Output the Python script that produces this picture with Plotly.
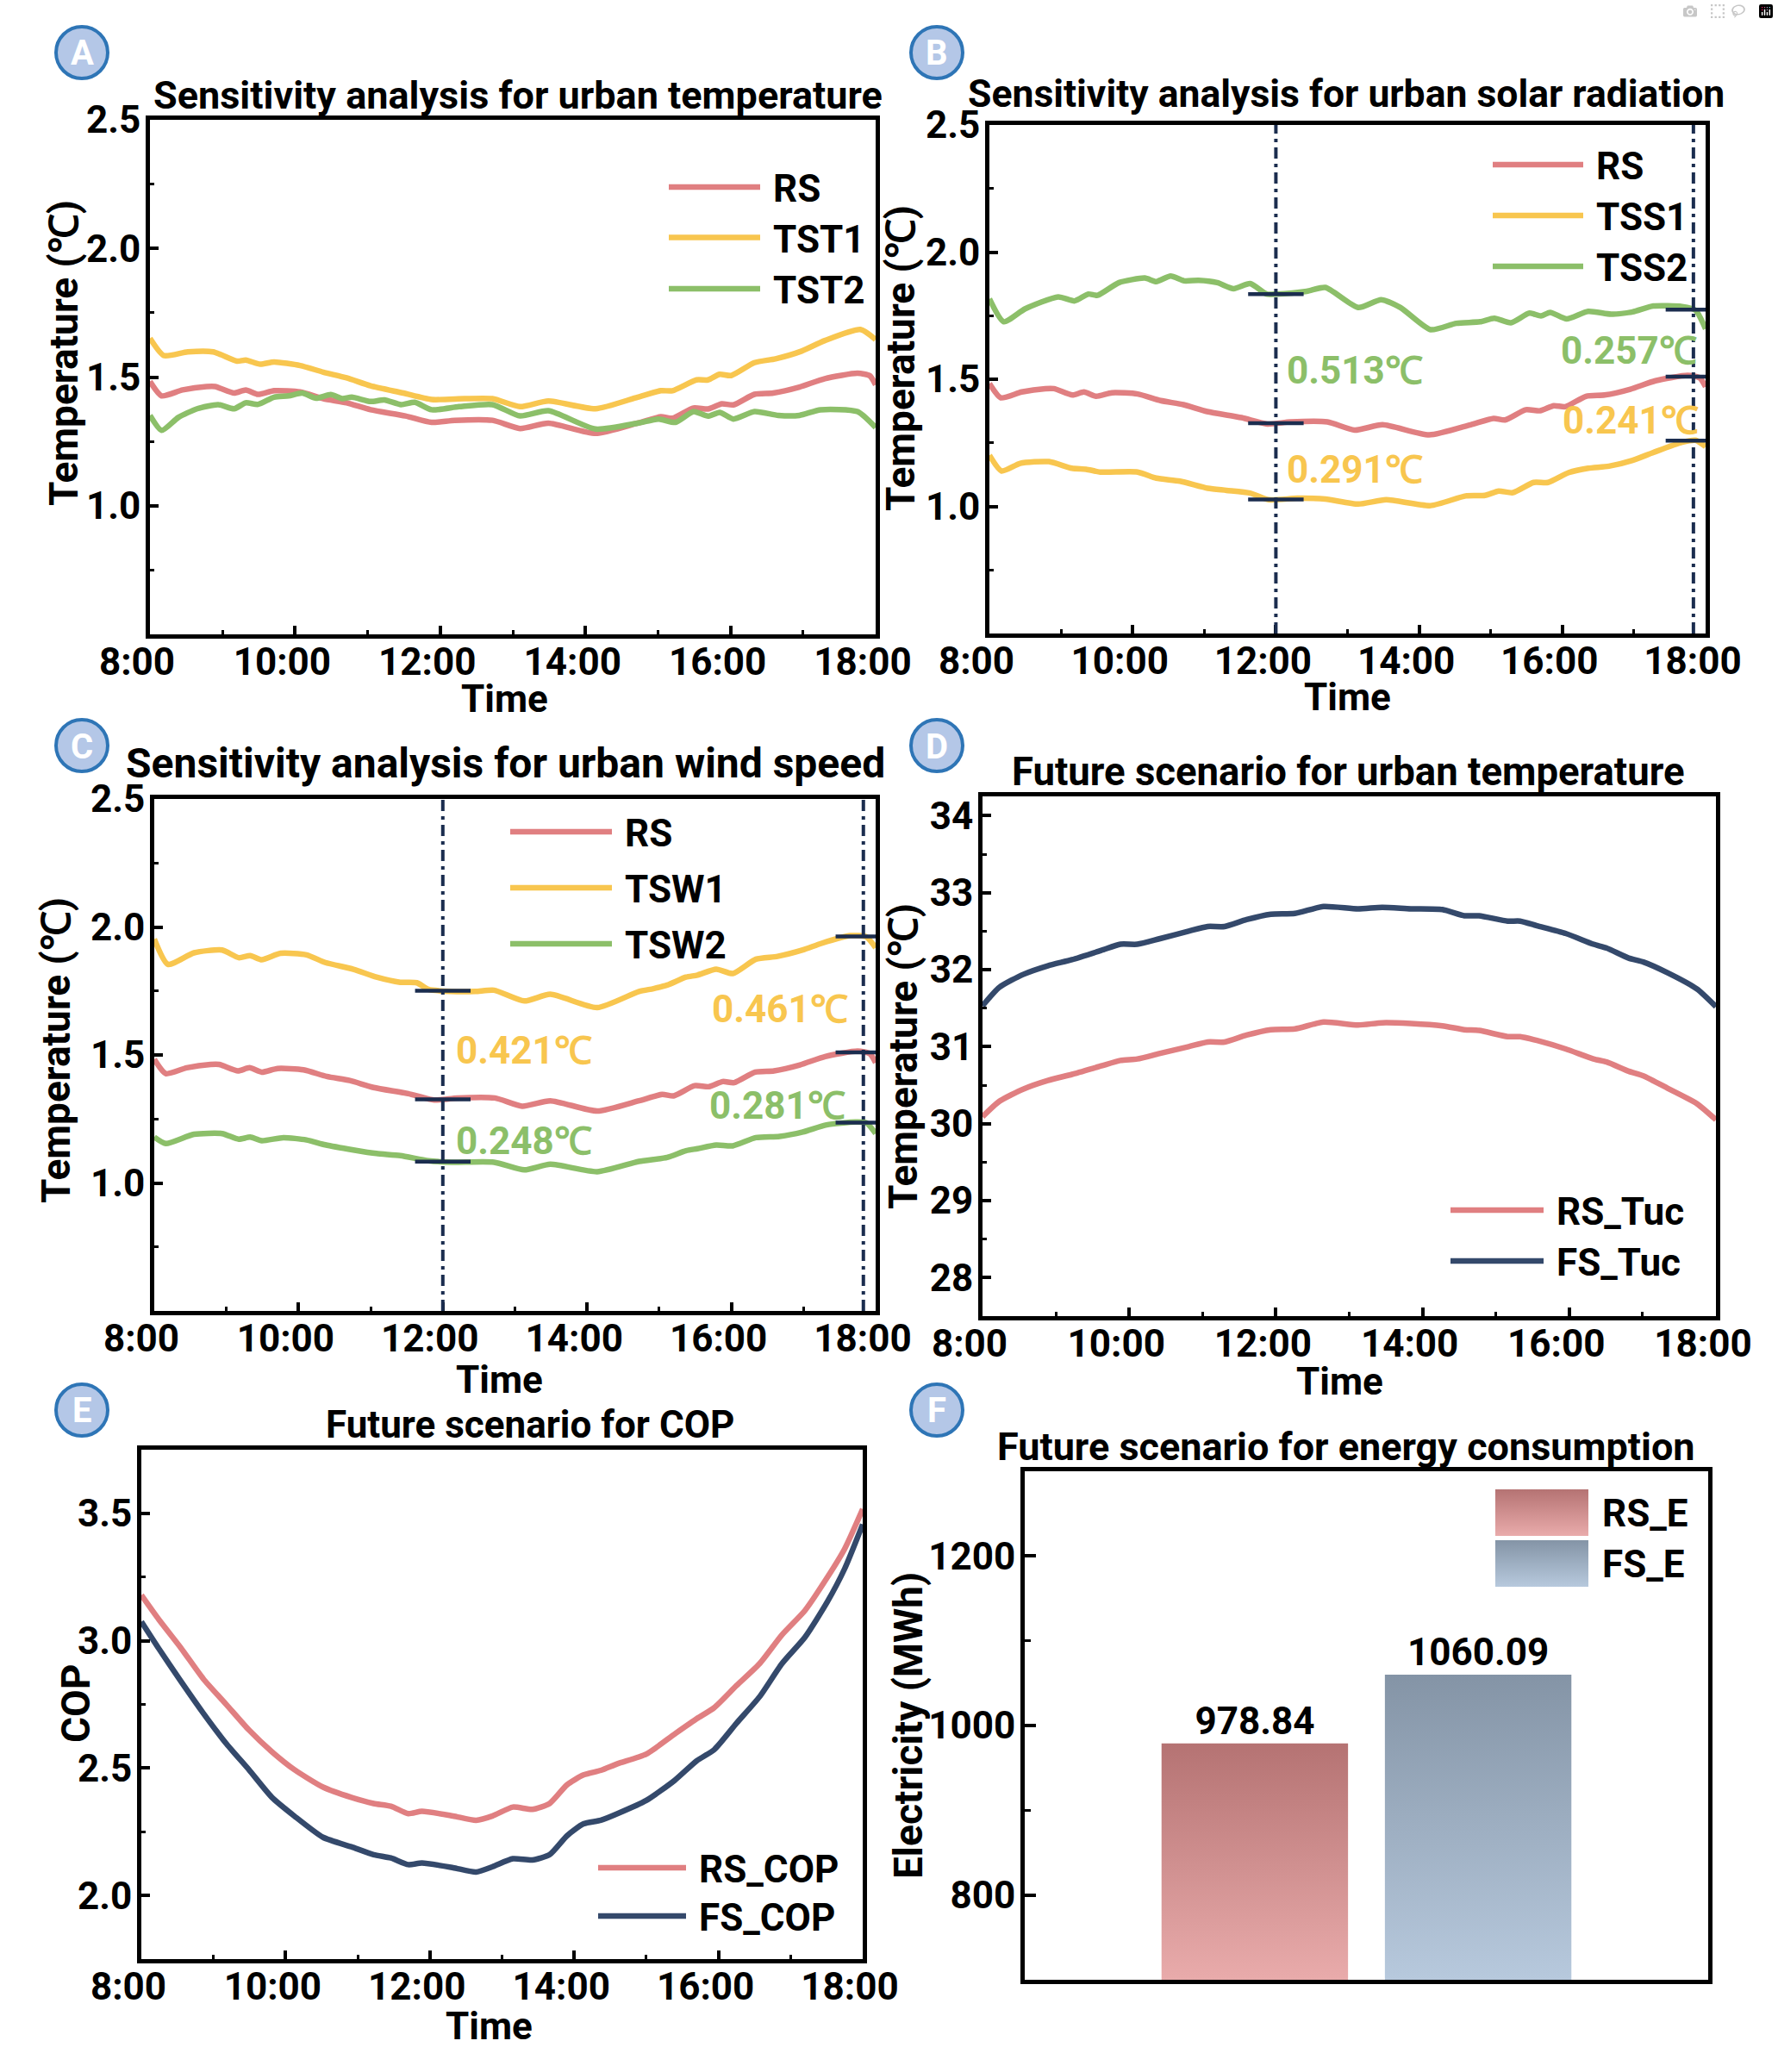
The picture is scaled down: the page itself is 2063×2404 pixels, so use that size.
import numpy as np
import plotly.graph_objects as go

# ---------------- data ----------------
X_TICKS = [8, 10, 12, 14, 16, 18]
X_TICKTEXT = ["8:00", "10:00", "12:00", "14:00", "16:00", "18:00"]

# reference scenario RS (panels A, B, C)
RS_T = [8.00, 8.16, 8.45, 8.78, 8.90, 9.16, 9.32, 9.49, 9.71, 10.07, 10.39, 10.71, 11.04, 11.52, 11.88,
        12.20, 12.72, 13.10, 13.49, 14.14, 14.72, 15.04, 15.20, 15.49, 15.69, 15.88, 16.04, 16.33, 16.59,
        16.95, 17.30, 17.75, 17.92, 18.00]
RS_V = [1.483, 1.427, 1.450, 1.463, 1.463, 1.438, 1.450, 1.433, 1.447, 1.442, 1.416, 1.400, 1.373, 1.349, 1.324,
        1.332, 1.332, 1.300, 1.321, 1.281, 1.321, 1.346, 1.340, 1.380, 1.376, 1.396, 1.392, 1.433, 1.438,
        1.461, 1.494, 1.515, 1.505, 1.470]

TST1_T = [8.00, 8.19, 8.52, 8.87, 9.20, 9.32, 9.52, 9.71, 10.07, 10.39, 10.71, 11.04, 11.49, 11.88, 12.33,
          12.72, 13.10, 13.49, 14.14, 14.72, 15.04, 15.20, 15.53, 15.69, 15.85, 16.01, 16.33, 16.62, 16.98,
          17.30, 17.79, 18.00]
TST1_V = [1.651, 1.584, 1.598, 1.598, 1.562, 1.566, 1.550, 1.559, 1.545, 1.519, 1.497, 1.466, 1.438, 1.413, 1.416,
          1.416, 1.385, 1.407, 1.377, 1.422, 1.447, 1.447, 1.489, 1.489, 1.511, 1.506, 1.556, 1.571, 1.601,
          1.642, 1.685, 1.646]

TST2_T = [8.00, 8.16, 8.39, 8.65, 8.94, 9.16, 9.32, 9.49, 9.71, 9.91, 10.10, 10.29, 10.49, 10.65, 10.78,
          11.04, 11.23, 11.46, 11.65, 11.88, 12.26, 12.72, 13.10, 13.49, 14.14, 14.72, 15.01, 15.24, 15.49,
          15.69, 15.85, 16.04, 16.33, 16.66, 16.95, 17.24, 17.75, 18.00]
TST2_V = [1.351, 1.293, 1.343, 1.377, 1.393, 1.377, 1.400, 1.394, 1.422, 1.427, 1.438, 1.418, 1.432, 1.416, 1.422,
          1.405, 1.411, 1.393, 1.402, 1.373, 1.385, 1.393, 1.349, 1.369, 1.298, 1.321, 1.337, 1.324, 1.366,
          1.348, 1.363, 1.337, 1.366, 1.351, 1.351, 1.373, 1.366, 1.304]

TSS1_T = [8.00, 8.17, 8.43, 8.83, 9.15, 9.35, 9.55, 10.07, 10.33, 10.66, 11.05, 11.31, 11.64, 11.90, 12.30,
          12.69, 13.15, 13.54, 14.16, 14.65, 14.92, 15.11, 15.31, 15.60, 15.80, 16.09, 16.36, 16.65, 16.98,
          17.27, 17.67, 17.86, 18.00]
TSS1_V = [1.201, 1.139, 1.169, 1.176, 1.150, 1.146, 1.135, 1.135, 1.111, 1.099, 1.071, 1.063, 1.052, 1.026, 1.032,
          1.029, 1.009, 1.026, 1.003, 1.041, 1.043, 1.060, 1.054, 1.094, 1.094, 1.133, 1.150, 1.158, 1.181,
          1.212, 1.252, 1.260, 1.235]

TSS2_T = [8.00, 8.20, 8.50, 8.96, 9.19, 9.38, 9.51, 9.81, 10.17, 10.33, 10.53, 10.72, 10.92, 11.18, 11.41,
          11.64, 11.87, 12.00, 12.43, 12.69, 13.15, 13.47, 13.74, 14.16, 14.52, 14.85, 15.05, 15.28, 15.54,
          15.70, 15.83, 16.06, 16.36, 16.68, 16.98, 17.27, 17.67, 17.86, 18.00]
TSS2_V = [1.816, 1.726, 1.777, 1.824, 1.808, 1.835, 1.830, 1.880, 1.898, 1.884, 1.906, 1.887, 1.889, 1.880, 1.856,
          1.876, 1.835, 1.835, 1.846, 1.861, 1.782, 1.813, 1.782, 1.695, 1.720, 1.726, 1.740, 1.722, 1.760,
          1.749, 1.763, 1.737, 1.767, 1.756, 1.765, 1.788, 1.786, 1.771, 1.698]

TSW1_T = [8.00, 8.19, 8.55, 8.94, 9.17, 9.33, 9.49, 9.75, 10.11, 10.37, 10.76, 11.08, 11.41, 11.64, 11.80,
          12.12, 12.45, 12.71, 13.13, 13.49, 14.14, 14.72, 14.92, 15.11, 15.37, 15.53, 15.79, 16.02, 16.34,
          16.64, 16.99, 17.25, 17.65, 17.87, 18.00]
TSW1_V = [1.953, 1.854, 1.899, 1.910, 1.880, 1.888, 1.872, 1.897, 1.891, 1.861, 1.835, 1.804, 1.784, 1.782, 1.756,
          1.748, 1.748, 1.753, 1.711, 1.737, 1.685, 1.748, 1.759, 1.773, 1.804, 1.812, 1.835, 1.818, 1.874,
          1.885, 1.910, 1.936, 1.966, 1.962, 1.919]

TSW2_T = [8.00, 8.16, 8.55, 8.94, 9.17, 9.33, 9.49, 9.79, 10.11, 10.37, 10.76, 11.08, 11.41, 11.80, 12.12,
          12.71, 13.13, 13.49, 14.14, 14.72, 15.11, 15.37, 15.53, 15.79, 16.02, 16.34, 16.67, 16.99, 17.32,
          17.72, 17.87, 18.00]
TSW2_V = [1.179, 1.154, 1.190, 1.193, 1.171, 1.179, 1.165, 1.177, 1.168, 1.149, 1.129, 1.115, 1.107, 1.087, 1.081,
          1.081, 1.051, 1.073, 1.044, 1.084, 1.100, 1.126, 1.134, 1.148, 1.145, 1.177, 1.182, 1.199, 1.227,
          1.238, 1.235, 1.193]

TUC_T = [8.00, 8.23, 8.56, 8.89, 9.22, 9.62, 9.88, 10.11, 10.41, 10.81, 11.07, 11.30, 11.60, 11.93, 12.26,
         12.65, 13.12, 13.45, 13.84, 14.27, 14.57, 14.77, 15.16, 15.33, 15.56, 15.95, 16.33, 16.51, 16.81,
         17.01, 17.34, 17.74, 18.00]
RS_TUC = [30.09, 30.29, 30.45, 30.56, 30.64, 30.75, 30.82, 30.84, 30.91, 31.00, 31.06, 31.06, 31.15, 31.22, 31.23,
          31.32, 31.28, 31.31, 31.30, 31.27, 31.22, 31.21, 31.13, 31.13, 31.08, 30.97, 30.84, 30.80, 30.68,
          30.62, 30.46, 30.26, 30.05]
FS_TUC = [31.53, 31.77, 31.94, 32.05, 32.13, 32.25, 32.33, 32.33, 32.40, 32.50, 32.56, 32.56, 32.65, 32.72, 32.73,
          32.82, 32.79, 32.81, 32.79, 32.78, 32.70, 32.70, 32.63, 32.63, 32.57, 32.47, 32.33, 32.28, 32.15,
          32.10, 31.96, 31.75, 31.52]

COP_T = [8.00, 8.24, 8.55, 8.86, 9.18, 9.49, 9.81, 10.12, 10.52, 10.91, 11.22, 11.46, 11.70, 11.89, 12.32,
         12.64, 12.87, 13.15, 13.42, 13.66, 13.90, 14.13, 14.37, 14.60, 15.00, 15.39, 15.70, 15.94, 16.25,
         16.57, 16.88, 17.20, 17.51, 17.75, 18.00]
RS_COP = [3.179, 3.084, 2.971, 2.850, 2.749, 2.650, 2.564, 2.494, 2.425, 2.385, 2.361, 2.350, 2.321, 2.330, 2.312,
          2.295, 2.312, 2.347, 2.338, 2.361, 2.434, 2.473, 2.491, 2.517, 2.555, 2.633, 2.694, 2.737, 2.824,
          2.910, 3.023, 3.119, 3.249, 3.361, 3.517]
FS_COP = [3.075, 2.970, 2.840, 2.715, 2.595, 2.494, 2.385, 2.312, 2.228, 2.191, 2.160, 2.147, 2.121, 2.127, 2.109,
          2.092, 2.113, 2.144, 2.139, 2.160, 2.234, 2.281, 2.295, 2.321, 2.373, 2.451, 2.529, 2.572, 2.676,
          2.780, 2.910, 3.014, 3.153, 3.283, 3.457]

MARK_TIMES = [12.0, 17.83]
DIFF_B = ["0.513℃", "0.291℃", "0.257℃", "0.241℃"]
DIFF_C = ["0.421℃", "0.248℃", "0.461℃", "0.281℃"]

E_NAMES = ["RS_E", "FS_E"]
E_VALUES = [978.84, 1060.09]

Y_TICKS_ABC = [1.0, 1.5, 2.0, 2.5]
Y_TICKS_D = [28, 29, 30, 31, 32, 33, 34]
Y_TICKS_E = [2.0, 2.5, 3.0, 3.5]
Y_TICKS_F = [800, 1000, 1200]

# ---------------- style ----------------
W, H = 2063, 2404
FONT = "Roboto"
FS = 44
RED = "#e07f81"
YEL = "#f8c64f"
GRN = "#8cbf69"
NAVY = "#34496b"
MARK = "#1b2d4f"
BAR_TOP = ["#b57373", "#8494a6"]
BAR_BOT = ["#e9abab", "#b7c9dd"]

# panel plot-area boxes in pixels: left, right, top, bottom
BOX = {
    1: (174, 1016, 139, 736),
    2: (1148, 1979, 145, 735),
    3: (179, 1016, 927, 1521),
    4: (1140, 1991, 924, 1527),
    5: (164, 1001, 1682, 2273),
    6: (1189, 1982, 1707, 2297),
}


def px(x):
    return x / W


def py(y):
    return 1 - y / H


def tfont(size=FS, color="black"):
    return dict(family=FONT, size=size, color=color, weight="bold")


fig = go.Figure()


def line(i, t, v, color, name):
    fig.add_trace(go.Scatter(x=t, y=v, mode="lines", name=name, showlegend=False,
                             line=dict(color=color, width=6.5, shape="spline", smoothing=0.6),
                             xaxis=f"x{i}", yaxis=f"y{i}"))


line(1, RS_T, RS_V, RED, "RS")
line(1, TST1_T, TST1_V, YEL, "TST1")
line(1, TST2_T, TST2_V, GRN, "TST2")
line(2, RS_T, RS_V, RED, "RS")
line(2, TSS1_T, TSS1_V, YEL, "TSS1")
line(2, TSS2_T, TSS2_V, GRN, "TSS2")
line(3, RS_T, RS_V, RED, "RS")
line(3, TSW1_T, TSW1_V, YEL, "TSW1")
line(3, TSW2_T, TSW2_V, GRN, "TSW2")
line(4, TUC_T, RS_TUC, RED, "RS_Tuc")
line(4, TUC_T, FS_TUC, NAVY, "FS_Tuc")
line(5, COP_T, RS_COP, RED, "RS_COP")
line(5, COP_T, FS_COP, NAVY, "FS_COP")

# markers on the series at the marked times (panels B, C)
for i, series in [(2, [(RS_T, RS_V), (TSS1_T, TSS1_V), (TSS2_T, TSS2_V)]),
                  (3, [(RS_T, RS_V), (TSW1_T, TSW1_V), (TSW2_T, TSW2_V)])]:
    mx, my = [], []
    for tm in MARK_TIMES:
        for t, v in series:
            mx.append(tm)
            my.append(float(np.interp(tm, t, v)))
    fig.add_trace(go.Scatter(x=mx, y=my, mode="markers", showlegend=False, hoverinfo="skip",
                             marker=dict(symbol="line-ew", size=46, color=MARK,
                                         line=dict(width=4.5, color=MARK)),
                             xaxis=f"x{i}", yaxis=f"y{i}"))

# bars with vertical gradient (panel F)
BAR_W = 0.835
BASE = 700
for k, (nm, val) in enumerate(zip(E_NAMES, E_VALUES)):
    x0, x1 = k - BAR_W / 2, k + BAR_W / 2
    fig.add_trace(go.Scatter(x=[x0, x1, x1, x0, x0], y=[BASE, BASE, val, val, BASE], mode="lines",
                             fill="toself", name=nm, showlegend=False,
                             line=dict(width=0, color=BAR_BOT[k]),
                             fillgradient=dict(type="vertical",
                                               colorscale=[[0, BAR_BOT[k]], [1, BAR_TOP[k]]],
                                               start=BASE, stop=val),
                             xaxis="x6", yaxis="y6"))
fig.add_trace(go.Scatter(x=list(range(len(E_VALUES))), y=E_VALUES, mode="text",
                         text=[f"{v:.2f}" for v in E_VALUES], textposition="top center",
                         textfont=tfont(FS), showlegend=False, hoverinfo="skip",
                         xaxis="x6", yaxis="y6"))

# legend swatches for F (overlay axis in domain fractions)
SW = [(0.6885, 0.8247, 0.8729, 0.9644), (0.6885, 0.8247, 0.7729, 0.8644)]
for k, (a, b, c, d) in enumerate(SW):
    fig.add_trace(go.Scatter(x=[a, b, b, a, a], y=[c, c, d, d, c], mode="lines", fill="toself",
                             showlegend=False, hoverinfo="skip", line=dict(width=0, color=BAR_BOT[k]),
                             fillgradient=dict(type="vertical",
                                               colorscale=[[0, BAR_BOT[k]], [1, BAR_TOP[k]]],
                                               start=c, stop=d),
                             xaxis="x7", yaxis="y7"))

# ---------------- axes ----------------
TICKF = tfont(FS)
MINOR = dict(ticks="inside", ticklen=5, tickwidth=3, tickcolor="black", tickmode="linear")


def base_axis(dom, rng):
    return dict(domain=dom, range=rng, showline=True, linewidth=5, linecolor="black", mirror=True,
                ticks="inside", ticklen=10, tickwidth=4, tickcolor="black", showgrid=False,
                zeroline=False, tickfont=TICKF, fixedrange=True, automargin=False)


layout = {}
for i, (l, r, t, b) in BOX.items():
    xd = [px(l), px(r)]
    yd = [py(b), py(t)]
    if i <= 5:
        xa = base_axis(xd, [8, 18])
        xa.update(tickmode="array", tickvals=X_TICKS, ticktext=X_TICKTEXT, ticklabelshift=-15,
                  ticklabelstandoff=-11, minor=dict(MINOR, tick0=8, dtick=1))
    else:
        xa = base_axis(xd, [-1.03, 2.03])
        xa.update(showticklabels=False, ticks="")
    if i <= 3:
        ya = base_axis(yd, [0.5, 2.5])
        ya.update(tickmode="array", tickvals=Y_TICKS_ABC, ticktext=[f"{v:.1f}" for v in Y_TICKS_ABC],
                  minor=dict(MINOR, tick0=0.5, dtick=0.25))
    elif i == 4:
        ya = base_axis(yd, [27.5, 34.25])
        ya.update(tickmode="array", tickvals=Y_TICKS_D, ticktext=[str(v) for v in Y_TICKS_D],
                  minor=dict(MINOR, tick0=27.5, dtick=0.5))
    elif i == 5:
        ya = base_axis(yd, [1.75, 3.75])
        ya.update(tickmode="array", tickvals=Y_TICKS_E, ticktext=[f"{v:.1f}" for v in Y_TICKS_E],
                  minor=dict(MINOR, tick0=1.75, dtick=0.25))
    else:
        ya = base_axis(yd, [700, 1300])
        ya.update(tickmode="array", tickvals=Y_TICKS_F, ticktext=[str(v) for v in Y_TICKS_F],
                  ticklen=13, minor=dict(MINOR, ticklen=7, tick0=700, dtick=100))
    ya["ticklabelstandoff"] = -3
    xa["anchor"] = f"y{i}"
    ya["anchor"] = f"x{i}"
    layout[f"xaxis{i}"] = xa
    layout[f"yaxis{i}"] = ya

l, r, t, b = BOX[6]
layout["xaxis7"] = dict(domain=[px(l), px(r)], range=[0, 1], visible=False, overlaying="x6",
                        anchor="y7", fixedrange=True, automargin=False)
layout["yaxis7"] = dict(domain=[py(b), py(t)], range=[0, 1], visible=False, overlaying="y6",
                        anchor="x7", fixedrange=True, automargin=False)

# ---------------- shapes & annotations ----------------
shapes = []
ann = []

# dash-dot guide lines in B and C
for i in (2, 3):
    for tm in MARK_TIMES:
        shapes.append(dict(type="line", xref=f"x{i}", yref=f"y{i} domain", x0=tm, x1=tm, y0=0, y1=1,
                           line=dict(color=MARK, width=4, dash="13px,6px,4px,6px"), layer="above"))

# difference labels
for i, labels, spots in [
    (2, DIFF_B, [(12.13, 1.534, "left", GRN), (12.13, 1.144, "left", YEL),
                 (17.90, 1.613, "right", GRN), (17.93, 1.336, "right", YEL)]),
    (3, DIFF_C, [(12.16, 1.516, "left", YEL), (12.16, 1.165, "left", GRN),
                 (17.64, 1.677, "right", YEL), (17.61, 1.300, "right", GRN)]),
]:
    for txt, (x, y, anc, col) in zip(labels, spots):
        ann.append(dict(text=txt, x=x, y=y, xref=f"x{i}", yref=f"y{i}", xanchor=anc, yanchor="middle",
                        showarrow=False, font=tfont(FS, col)))

# titles
TITLES = [
    ("Sensitivity analysis for urban temperature", 601, 111, 45),
    ("Sensitivity analysis for urban solar radiation", 1562, 109, 44.5),
    ("Sensitivity analysis for urban wind speed", 586, 885, 48),
    ("Future scenario for urban temperature", 1564, 895, 45.5),
    ("Future scenario for COP", 615, 1653, 44),
    ("Future scenario for energy consumption", 1562, 1678, 45),
]
for txt, x, y, s in TITLES:
    ann.append(dict(text=txt, x=px(x), y=py(y), xref="paper", yref="paper", xanchor="center",
                    yanchor="middle", showarrow=False, font=tfont(s)))

# axis titles
YTITLES = [
    ("Temperature (℃)", 74, 410),
    ("Temperature (℃)", 1045, 416),
    ("Temperature (℃)", 65, 1219),
    ("Temperature (℃)", 1048, 1226),
    ("COP", 88, 1977),
    ("Electricity (MWh)", 1054, 2002),
]
for txt, x, y in YTITLES:
    ann.append(dict(text=txt, x=px(x), y=py(y), xref="paper", yref="paper", xanchor="center",
                    yanchor="middle", showarrow=False, textangle=-90, font=tfont(46)))
XTITLES = [(585, 811), (1563, 809), (579, 1601), (1554, 1603), (567, 2351)]
for x, y in XTITLES:
    ann.append(dict(text="Time", x=px(x), y=py(y), xref="paper", yref="paper", xanchor="center",
                    yanchor="middle", showarrow=False, font=tfont(FS)))

# manual legends
LEGENDS = [
    (776, 882, 895, [(217, RED, "RS"), (275.5, YEL, "TST1"), (335, GRN, "TST2")]),
    (1732, 1837, 1850, [(191, RED, "RS"), (250, YEL, "TSS1"), (309, GRN, "TSS2")]),
    (592, 710, 723, [(965, RED, "RS"), (1030, YEL, "TSW1"), (1095, GRN, "TSW2")]),
    (1683, 1791, 1804, [(1404, RED, "RS_Tuc"), (1463, NAVY, "FS_Tuc")]),
    (694, 796, 809, [(2167, RED, "RS_COP"), (2223, NAVY, "FS_COP")]),
]
for x0, x1, xt, items in LEGENDS:
    for y, col, txt in items:
        shapes.append(dict(type="line", xref="paper", yref="paper", x0=px(x0), x1=px(x1),
                           y0=py(y), y1=py(y), line=dict(color=col, width=6.5)))
        ann.append(dict(text=txt, x=px(xt), y=py(y + 2), xref="paper", yref="paper", xanchor="left",
                        yanchor="middle", showarrow=False, font=tfont(FS)))
for y, txt in [(1754, E_NAMES[0]), (1813, E_NAMES[1])]:
    ann.append(dict(text=txt, x=px(1857), y=py(y + 2), xref="paper", yref="paper", xanchor="left",
                    yanchor="middle", showarrow=False, font=tfont(FS)))

# panel letters
PANELS = [("A", 95, 61), ("B", 1087, 61), ("C", 95, 865), ("D", 1087, 865), ("E", 95, 1636), ("F", 1087, 1636)]
for letter, cx, cy in PANELS:
    rr = 30
    shapes.append(dict(type="circle", xref="paper", yref="paper", x0=px(cx - rr), x1=px(cx + rr),
                       y0=py(cy + rr), y1=py(cy - rr), fillcolor="#b4c7e7",
                       line=dict(color="#2e75b6", width=4)))
    ann.append(dict(text=letter, x=px(cx), y=py(cy + 1), xref="paper", yref="paper", xanchor="center",
                    yanchor="middle", showarrow=False, font=tfont(40, "white")))

fig.update_layout(
    width=W, height=H, margin=dict(l=0, r=0, t=0, b=0, pad=0), autosize=False,
    paper_bgcolor="white", plot_bgcolor="rgba(0,0,0,0)", showlegend=False,
    font=dict(family=FONT, color="black"),
    shapes=shapes, annotations=ann, **layout,
)

fig.write_html("out.html", post_script="document.body.style.margin='0';")
